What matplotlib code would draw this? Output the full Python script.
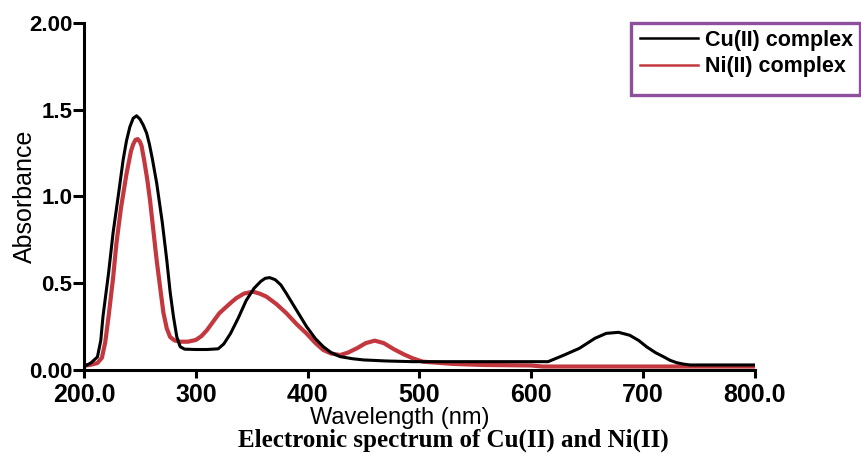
import matplotlib
matplotlib.use("Agg")
import matplotlib.pyplot as plt
from matplotlib.lines import Line2D
from matplotlib.patches import Rectangle

plt.rcParams['font.family'] = ['Liberation Sans', 'DejaVu Sans']

# Cu(II) complex absorbance
cu_wl = [200, 206, 212, 215, 217, 222, 226, 231, 235, 238, 241, 244, 247, 250,
         253, 256, 258.5, 261, 265, 270, 274, 277, 280, 283, 286, 290, 300, 310,
         320, 325, 331, 338, 345, 352, 358, 362, 366, 371, 376, 381, 390, 399,
         407, 414, 421, 429, 440, 450, 470, 494, 520, 560, 600, 615, 630, 643,
         657, 667, 678, 688, 696, 703, 711, 718, 724, 730, 736, 742, 770, 800]
cu_abs = [0.02, 0.04, 0.075, 0.17, 0.31, 0.56, 0.79, 1.02, 1.21, 1.32, 1.40,
          1.45, 1.464, 1.445, 1.41, 1.364, 1.30, 1.22, 1.076, 0.85, 0.634, 0.45,
          0.307, 0.19, 0.134, 0.12, 0.118, 0.118, 0.122, 0.15, 0.21, 0.30,
          0.40, 0.47, 0.51, 0.528, 0.532, 0.52, 0.49, 0.44, 0.345, 0.25, 0.18,
          0.134, 0.10, 0.077, 0.065, 0.058, 0.052, 0.048, 0.048, 0.048, 0.048,
          0.048, 0.088, 0.125, 0.183, 0.211, 0.217, 0.20, 0.17, 0.134, 0.10,
          0.077, 0.056, 0.042, 0.034, 0.029, 0.029, 0.029]

# Ni(II) complex absorbance
ni_wl = [200, 206, 212, 216, 219, 222, 226, 229, 233, 238, 242, 244, 246, 248,
         250, 251.5, 254, 256.5, 259, 265, 271, 274, 277, 281, 286, 293, 300,
         305, 310, 321, 330, 336, 343, 351, 357, 363, 372, 381, 390, 399, 407,
         414, 421, 429, 436, 444, 452, 460, 468, 477, 486, 494, 503, 530, 557,
         600, 610, 700, 800]
ni_abs = [0.025, 0.03, 0.04, 0.07, 0.16, 0.31, 0.53, 0.73, 0.93, 1.13, 1.26,
          1.30, 1.325, 1.33, 1.315, 1.29, 1.20, 1.10, 0.98, 0.63, 0.33, 0.24,
          0.19, 0.17, 0.163, 0.163, 0.173, 0.195, 0.23, 0.327, 0.38, 0.413,
          0.44, 0.451, 0.44, 0.423, 0.38, 0.327, 0.265, 0.21, 0.155, 0.115,
          0.095, 0.086, 0.10, 0.125, 0.155, 0.169, 0.155, 0.12, 0.09, 0.067,
          0.048, 0.035, 0.029, 0.026, 0.02, 0.02, 0.02]

x_ticks = [200, 300, 400, 500, 600, 700, 800]
x_labels = ['200.0', '300', '400', '500', '600', '700', '800.0']
y_ticks = [0, 0.5, 1.0, 1.5, 2.0]
y_labels = ['0.00', '0.5', '1.0', '1.5', '2.00']

W, H = 862, 454
fig = plt.figure(figsize=(W / 100, H / 100), dpi=100)
ax = fig.add_axes([84 / W, 1 - 370 / H, (755 - 84) / W, (370 - 22.7) / H])

red = '#c3383f'
ax.plot(ni_wl, ni_abs, color=red, lw=3.0, solid_joinstyle='round')
ax.plot(cu_wl, cu_abs, color='black', lw=2.2, solid_joinstyle='round')

ax.set_xlim(200, 800)
ax.set_ylim(0, 2)
ax.set_xticks(x_ticks)
ax.set_xticklabels(x_labels, fontsize=18, fontweight='bold')
ax.set_yticks(y_ticks)
ax.set_yticklabels(y_labels, fontsize=16, fontweight='bold')

for s in ['top', 'right']:
    ax.spines[s].set_visible(False)
for s in ['left', 'bottom']:
    ax.spines[s].set_linewidth(2.2)
ax.tick_params(axis='x', length=6, width=2.2, pad=3)
ax.tick_params(axis='y', length=8, width=2.2, pad=0.5)

ax.set_ylabel('Absorbance', fontsize=18)
ax.yaxis.set_label_coords((37 - 84) / (755 - 84), 0.5)

fig.text(400 / W, 1 - 418 / H, 'Wavelength (nm)', fontsize=17,
         ha='center', va='center')
fig.text(453 / W, 1 - 440 / H, 'Electronic spectrum of Cu(II) and Ni(II)',
         fontsize=18, fontweight='bold', family=['Liberation Serif'],
         ha='center', va='center')

# legend box with purple border
fig.patches.append(Rectangle((631 / W, 1 - 95 / H), (229 / W), (72 / H),
                             transform=fig.transFigure, fill=False,
                             edgecolor='#8e4f9c', lw=2.4))
handles = [Line2D([], [], color='black', lw=1.8),
           Line2D([], [], color=red, lw=1.8)]
fig.legend(handles, ['Cu(II) complex', 'Ni(II) complex'],
           loc='upper left', bbox_to_anchor=(640 / W, 1 - 30 / H),
           frameon=False, prop={'size': 15.5, 'weight': 'bold'},
           handlelength=2.7, handletextpad=0.3, labelspacing=0.25,
           borderpad=0, borderaxespad=0)

fig.savefig('out.png', dpi=100)
